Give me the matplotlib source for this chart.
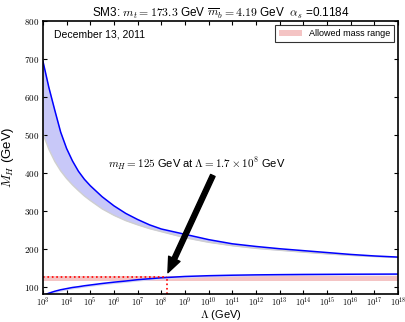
import matplotlib
matplotlib.use("Agg")
import matplotlib.pyplot as plt
import numpy as np

plt.rcParams['font.family'] = ['Liberation Sans', 'DejaVu Sans']
plt.rcParams['mathtext.fontset'] = 'cm'

# log10(Lambda / GeV)
log_lam = [3.0, 3.25, 3.5, 3.75, 4.0, 4.25, 4.5, 4.75, 5.0, 5.5, 6.0, 6.5, 7.0, 7.5, 8.0,
           9.0, 10.0, 11.0, 12.0, 13.0, 14.0, 15.0, 16.0, 17.0, 18.0]
# upper curve and lower edge of its band
upper_mh = [694, 625, 565, 507, 464, 431, 404, 383, 366, 337, 313, 293, 277, 263, 252,
            238, 224, 213, 206, 200, 195, 190, 185, 181, 178]
upper_band_low = [503, 462, 430, 405, 385, 368, 353, 339, 327, 305, 288, 274, 263, 253, 245,
                  229, 217, 208, 201, 196, 191, 186.5, 182.5, 179.5, 177]
# lower curve and lower edge of its band
lower_mh = [77, 83, 88, 92, 95, 98, 100, 102.5, 104.5, 108.5, 112, 115, 118.5, 121, 123.5,
            127, 129, 130.3, 131.2, 131.8, 132.3, 132.6, 132.9, 133.1, 133.3]
lower_band_low = [73, 79, 84, 88, 91.5, 94.5, 96.5, 99, 101, 105, 108.5, 111.5, 115, 117.5, 120,
                  123.5, 125.8, 127.3, 128.4, 129.2, 129.8, 130.3, 130.7, 131, 131.3]

xticks_exp = list(range(3, 19))
yticks = [100, 200, 300, 400, 500, 600, 700, 800]

allowed = (115, 127)
mh_point = 125
lam_point = 1.7e8

lam = 10.0 ** np.array(log_lam)

fig = plt.figure(figsize=(4.05, 3.22), dpi=100)
ax = fig.add_axes([0.106, 0.086, 0.877, 0.849])

ax.axhspan(allowed[0], allowed[1], color='#f4c4c4', lw=0, label='Allowed mass range')

ax.fill_between(lam, upper_band_low, upper_mh, color='#c8c8f8', lw=0)
ax.plot(lam, upper_band_low, color='#cfcfcf', lw=1)
ax.fill_between(lam, lower_band_low, lower_mh, color='#d4d4f4', lw=0)
ax.plot(lam, upper_mh, color='#0000ff', lw=1.1)
ax.plot(lam, lower_mh, color='#0000ff', lw=1.1)

ax.plot([1e3, lam_point], [mh_point, mh_point], color='red', ls=':', lw=1.2)
ax.plot([lam_point, lam_point], [80, mh_point], color='red', ls=':', lw=1.2)

ax.annotate('', xy=(1.9e8, 137), xytext=(1.5e10, 393),
            arrowprops=dict(facecolor='black', edgecolor='black', width=3.5,
                            headwidth=9, headlength=11, shrink=0))
ax.text(10 ** 5.75, 425, r'$m_H = 125$ GeV at $\Lambda = 1.7\times10^8$ GeV',
        fontsize=8, va='center')
ax.text(10 ** 3.45, 765, 'December 13, 2011', fontsize=7.5, va='center')

ax.set_xscale('log')
ax.set_xlim(1e3, 1e18)
ax.set_ylim(80, 800)
ax.set_xticks([10.0 ** k for k in xticks_exp])
ax.set_xticklabels([r'$10^{%d}$' % k for k in xticks_exp], fontsize=6.2)
ax.minorticks_off()
ax.set_yticks(yticks)
ax.set_yticklabels([r'$%d$' % v for v in yticks], fontsize=6.5)
ax.tick_params(direction='in', top=True, right=True, length=3, width=0.8, pad=3)
ax.tick_params(axis='x', pad=1)
for s in ax.spines.values():
    s.set_linewidth(1.2)

ax.set_xlabel(r'$\Lambda$ (GeV)', fontsize=8, va='bottom')
ax.xaxis.set_label_coords(0.5, -0.102)
ax.set_ylabel(r'$M_H$ (GeV)', fontsize=9.5)
ax.yaxis.set_label_coords(-0.075, 0.5)
ax.set_title(r'SM3: $m_t = 173.3$ GeV $\overline{m}_b = 4.19$ GeV  $\alpha_s$ =0.1184',
             fontsize=8.5, pad=3)

leg = ax.legend(loc='upper right', fontsize=6.5, frameon=True, fancybox=False,
                handlelength=2.5, borderpad=0.4, borderaxespad=0.5)
leg.get_frame().set_edgecolor('black')
leg.get_frame().set_linewidth(0.8)

fig.savefig('out.png', dpi=100)
